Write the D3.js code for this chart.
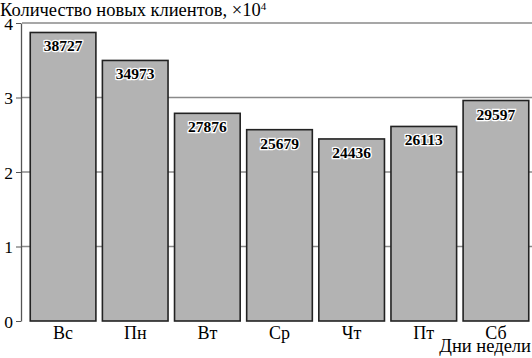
<!DOCTYPE html>
<html>
<head>
<meta charset="utf-8">
<script src="https://cdn.jsdelivr.net/npm/d3@7"></script>
<style>
body { margin: 0; background: #fff; }
</style>
</head>
<body>
<svg id="chart" width="532" height="358"></svg>
<script>
var days = ["Вс", "Пн", "Вт", "Ср", "Чт", "Пт", "Сб"];
var clients = [38727, 34973, 27876, 25679, 24436, 26113, 29597];
var yTicks = [0, 1, 2, 3, 4];

var serif = "'Liberation Serif', 'Times New Roman', 'DejaVu Serif', serif";

var svg = d3.select("#chart");

var x = d3.scaleBand()
    .domain(days)
    .range([27, 532])
    .paddingInner(0.09)
    .paddingOuter(0.045);

var y = d3.scaleLinear()
    .domain([0, 4])
    .range([321, 23]);

// grid lines
svg.append("g").selectAll("line")
    .data(yTicks.slice(1))
    .enter().append("line")
    .attr("x1", 22).attr("x2", 532)
    .attr("y1", function (d) { return y(d) })
    .attr("y2", function (d) { return y(d) })
    .attr("stroke", "#8a8a8a")
    .attr("stroke-width", 1.3);

// y axis
var yAxis = svg.append("g")
    .attr("transform", "translate(21,0)")
    .call(d3.axisLeft(y).tickValues(yTicks).tickFormat(d3.format("d")).tickSize(5).tickSizeOuter(0));
yAxis.select(".domain").attr("stroke", "#555").attr("stroke-width", 1.3);
yAxis.selectAll(".tick line").attr("stroke", "#555");
yAxis.selectAll(".tick text")
    .style("font-family", serif)
    .style("font-size", "17.5px")
    .attr("fill", "#000")
    .attr("x", -8)
    .attr("dy", "0.36em");

// bars
svg.append("g").selectAll("rect")
    .data(clients)
    .enter().append("rect")
    .attr("x", function (d, i) { return x(days[i]) })
    .attr("width", x.bandwidth())
    .attr("y", function (d) { return y(d / 10000) })
    .attr("height", function (d) { return y(0) - y(d / 10000) })
    .attr("fill", "#b3b3b3")
    .attr("stroke", "#222")
    .attr("stroke-width", 1.6);

// value labels
svg.append("g").selectAll("text")
    .data(clients)
    .enter().append("text")
    .attr("x", function (d, i) { return x(days[i]) + x.bandwidth() / 2 })
    .attr("y", function (d) { return y(d / 10000) + 19 })
    .attr("text-anchor", "middle")
    .style("font-family", serif)
    .style("font-size", "15.5px")
    .style("font-weight", "bold")
    .attr("stroke", "#fff")
    .attr("stroke-width", 2.5)
    .attr("paint-order", "stroke")
    .attr("fill", "#000")
    .text(function (d) { return d });

// x labels
svg.append("g").selectAll("text")
    .data(days)
    .enter().append("text")
    .attr("x", function (d) { return x(d) + x.bandwidth() / 2 })
    .attr("y", 339)
    .attr("text-anchor", "middle")
    .style("font-family", serif)
    .style("font-size", "18px")
    .text(function (d) { return d });

// titles
var title = svg.append("text")
    .attr("x", 0).attr("y", 16)
    .style("font-family", serif)
    .style("font-size", "18.5px");
title.append("tspan").text("Количество новых клиентов, ×10");
title.append("tspan").style("font-size", "11px").attr("dy", -6).text("4");

svg.append("text")
    .attr("x", 531).attr("y", 352)
    .attr("text-anchor", "end")
    .style("font-family", serif)
    .style("font-size", "18.5px")
    .text("Дни недели");
</script>
</body>
</html>
